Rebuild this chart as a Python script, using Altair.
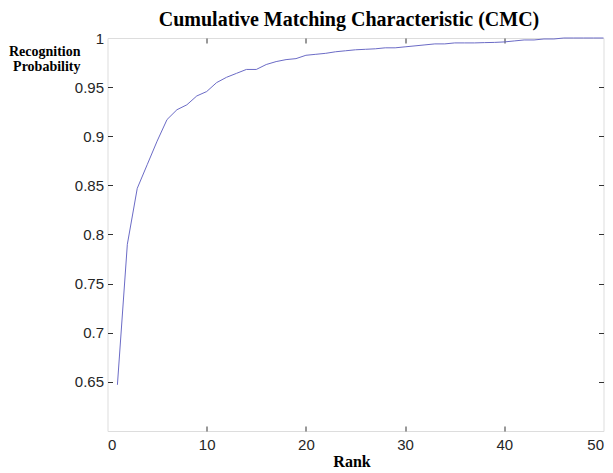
import altair as alt
import pandas as pd

rank = list(range(1, 51))
prob = [0.647, 0.790, 0.847, 0.871, 0.895, 0.917, 0.927, 0.932, 0.941, 0.9455,
        0.9546, 0.960, 0.964, 0.968, 0.968, 0.973, 0.976, 0.978, 0.979, 0.9824,
        0.9834, 0.9844, 0.986, 0.987, 0.988, 0.9885, 0.989, 0.990, 0.990, 0.991,
        0.992, 0.993, 0.994, 0.994, 0.995, 0.995, 0.995, 0.9953, 0.9955, 0.996,
        0.997, 0.998, 0.998, 0.999, 0.999, 1.0, 1.0, 1.0, 1.0, 1.0]
y_ticks = [0.65, 0.7, 0.75, 0.8, 0.85, 0.9, 0.95, 1]
x_ticks = [0, 10, 20, 30, 40, 50]

df = pd.DataFrame({"Rank": rank, "Prob": prob})

W, H = 496, 393
LINE = "#6b6bc6"
xs = alt.Scale(domain=[0, 50], nice=False)
ys = alt.Scale(domain=[0.6, 1], nice=False)

lab = dict(labelFont="Liberation Sans", labelFontSize=15, labelColor="#262626",
           domain=False, grid=False)

main = alt.Chart(df).mark_line(color=LINE, strokeWidth=1).encode(
    x=alt.X("Rank:Q", scale=xs, axis=alt.Axis(
        values=x_ticks, ticks=False, tickSize=0, labelPadding=6, title="Rank",
        titleFont="Liberation Serif", titleFontSize=16, titleFontWeight="bold",
        titleColor="black", titleBaseline="alphabetic", titleY=35.5, titleX=244,
        **lab)),
    y=alt.Y("Prob:Q", scale=ys, axis=alt.Axis(
        values=y_ticks, format="~g", ticks=False, tickSize=0, labelPadding=4,
        title=["Recognition", "Probability"], titleAngle=0, titleAlign="right",
        titleFont="Liberation Serif", titleFontSize=14, titleFontWeight="bold",
        titleColor="black", titleBaseline="alphabetic", titleLineHeight=15,
        titleX=-27.5, titleY=17, **lab)),
)

tick = dict(labels=False, domain=False, grid=False, title=None, tickSize=5,
            tickColor="#333333", tickWidth=1)

inner1 = alt.Chart(df).mark_line(opacity=0).encode(
    x=alt.X("Rank:Q", scale=xs, axis=alt.Axis(orient="bottom", offset=-H,
                                             values=[10, 20, 30, 40], **tick)),
    y=alt.Y("Prob:Q", scale=ys, axis=alt.Axis(orient="right", offset=-W,
                                             values=y_ticks[:-1], **tick)),
)
inner2 = alt.Chart(df).mark_line(opacity=0).encode(
    x=alt.X("Rank:Q", scale=xs, axis=alt.Axis(orient="top", offset=-H,
                                             values=[10, 20, 30, 40], **tick)),
    y=alt.Y("Prob:Q", scale=ys, axis=alt.Axis(orient="left", offset=-W,
                                             values=y_ticks[:-1], **tick)),
)

chart = alt.layer(main, inner1, inner2).resolve_axis(
    x="independent", y="independent"
).properties(
    width=W, height=H,
    title=alt.TitleParams("Cumulative Matching Characteristic (CMC)",
                          font="Liberation Serif", fontSize=20, fontWeight="bold",
                          color="black", anchor="middle", dx=-6.5, offset=1),
    autosize=alt.AutoSizeParams(type="none"),
    padding={"left": 99.5, "top": 30, "right": 1, "bottom": 40},
).configure_view(stroke="#2e2e2e", strokeWidth=1.3).configure(background="white")

chart.save("out.html", embed_options={"renderer": "svg", "actions": False})
